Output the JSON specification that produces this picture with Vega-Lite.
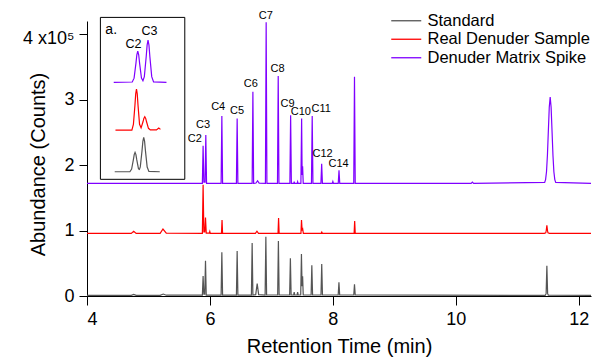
{
  "$schema": "https://vega.github.io/schema/vega-lite/v6.json",
  "width": 504,
  "height": 275,
  "autosize": {"type": "none"},
  "padding": {"left": 87, "top": 21, "right": 1, "bottom": 62},
  "background": "white",
  "config": {
    "view": {"stroke": null},
    "font": "Liberation Sans",
    "text": {"font": "Liberation Sans"}
  },
  "datasets": {
    "main": [
      {"s":"Standard","t":4.0,"v":0.01},{"s":"Standard","t":4.72,"v":0.01},{"s":"Standard","t":4.76,"v":0.025},{"s":"Standard","t":4.8,"v":0.01},
      {"s":"Standard","t":5.19,"v":0.01},{"s":"Standard","t":5.24,"v":0.03},{"s":"Standard","t":5.29,"v":0.012},
      {"s":"Standard","t":5.877,"v":0.012},{"s":"Standard","t":5.889,"v":0.305},{"s":"Standard","t":5.901,"v":0.03},{"s":"Standard","t":5.916,"v":0.03},{"s":"Standard","t":5.928,"v":0.54},{"s":"Standard","t":5.94,"v":0.012},
      {"s":"Standard","t":6.182,"v":0.012},{"s":"Standard","t":6.194,"v":0.667},{"s":"Standard","t":6.206,"v":0.012},
      {"s":"Standard","t":6.431,"v":0.012},{"s":"Standard","t":6.443,"v":0.687},{"s":"Standard","t":6.455,"v":0.012},
      {"s":"Standard","t":6.675,"v":0.012},{"s":"Standard","t":6.687,"v":0.81},{"s":"Standard","t":6.699,"v":0.015},
      {"s":"Standard","t":6.745,"v":0.02},{"s":"Standard","t":6.769,"v":0.19},{"s":"Standard","t":6.793,"v":0.02},
      {"s":"Standard","t":6.898,"v":0.015},{"s":"Standard","t":6.91,"v":0.905},{"s":"Standard","t":6.922,"v":0.015},
      {"s":"Standard","t":7.102,"v":0.015},{"s":"Standard","t":7.114,"v":0.84},{"s":"Standard","t":7.126,"v":0.015},
      {"s":"Standard","t":7.297,"v":0.015},{"s":"Standard","t":7.309,"v":0.575},{"s":"Standard","t":7.321,"v":0.015},
      {"s":"Standard","t":7.362,"v":0.015},{"s":"Standard","t":7.371,"v":0.06},{"s":"Standard","t":7.38,"v":0.015},
      {"s":"Standard","t":7.418,"v":0.015},{"s":"Standard","t":7.427,"v":0.06},{"s":"Standard","t":7.436,"v":0.015},
      {"s":"Standard","t":7.477,"v":0.015},{"s":"Standard","t":7.489,"v":0.64},{"s":"Standard","t":7.499,"v":0.15},{"s":"Standard","t":7.508,"v":0.3},{"s":"Standard","t":7.518,"v":0.015},
      {"s":"Standard","t":7.646,"v":0.015},{"s":"Standard","t":7.658,"v":0.47},{"s":"Standard","t":7.67,"v":0.015},
      {"s":"Standard","t":7.807,"v":0.015},{"s":"Standard","t":7.819,"v":0.49},{"s":"Standard","t":7.831,"v":0.015},
      {"s":"Standard","t":8.087,"v":0.015},{"s":"Standard","t":8.099,"v":0.21},{"s":"Standard","t":8.111,"v":0.015},
      {"s":"Standard","t":8.34,"v":0.015},{"s":"Standard","t":8.352,"v":0.18},{"s":"Standard","t":8.364,"v":0.015},
      {"s":"Standard","t":9.6,"v":0.012},{"s":"Standard","t":11.44,"v":0.01},{"s":"Standard","t":11.458,"v":0.012},{"s":"Standard","t":11.47,"v":0.04},{"s":"Standard","t":11.482,"v":0.46},{"s":"Standard","t":11.494,"v":0.04},{"s":"Standard","t":11.506,"v":0.012},{"s":"Standard","t":12.2,"v":0.01},

      {"s":"Real Denuder Sample","t":4.0,"v":0.957},{"s":"Real Denuder Sample","t":4.72,"v":0.957},{"s":"Real Denuder Sample","t":4.76,"v":0.99},{"s":"Real Denuder Sample","t":4.8,"v":0.957},
      {"s":"Real Denuder Sample","t":5.19,"v":0.957},{"s":"Real Denuder Sample","t":5.236,"v":1.023},{"s":"Real Denuder Sample","t":5.29,"v":0.96},
      {"s":"Real Denuder Sample","t":5.877,"v":0.957},{"s":"Real Denuder Sample","t":5.889,"v":1.7},{"s":"Real Denuder Sample","t":5.901,"v":0.98},{"s":"Real Denuder Sample","t":5.916,"v":0.98},{"s":"Real Denuder Sample","t":5.928,"v":1.2},{"s":"Real Denuder Sample","t":5.94,"v":0.96},
      {"s":"Real Denuder Sample","t":5.99,"v":0.96},{"s":"Real Denuder Sample","t":5.998,"v":0.985},{"s":"Real Denuder Sample","t":6.006,"v":0.957},
      {"s":"Real Denuder Sample","t":6.188,"v":0.957},{"s":"Real Denuder Sample","t":6.197,"v":1.16},{"s":"Real Denuder Sample","t":6.206,"v":0.957},
      {"s":"Real Denuder Sample","t":6.74,"v":0.957},{"s":"Real Denuder Sample","t":6.765,"v":0.99},{"s":"Real Denuder Sample","t":6.79,"v":0.957},
      {"s":"Real Denuder Sample","t":7.108,"v":0.957},{"s":"Real Denuder Sample","t":7.117,"v":1.19},{"s":"Real Denuder Sample","t":7.126,"v":0.957},
      {"s":"Real Denuder Sample","t":7.481,"v":0.957},{"s":"Real Denuder Sample","t":7.49,"v":1.16},{"s":"Real Denuder Sample","t":7.5,"v":1.0},{"s":"Real Denuder Sample","t":7.51,"v":1.02},{"s":"Real Denuder Sample","t":7.52,"v":0.957},
      {"s":"Real Denuder Sample","t":7.81,"v":0.957},{"s":"Real Denuder Sample","t":7.82,"v":0.975},{"s":"Real Denuder Sample","t":7.83,"v":0.957},
      {"s":"Real Denuder Sample","t":8.346,"v":0.957},{"s":"Real Denuder Sample","t":8.355,"v":1.145},{"s":"Real Denuder Sample","t":8.364,"v":0.957},
      {"s":"Real Denuder Sample","t":11.44,"v":0.957},{"s":"Real Denuder Sample","t":11.464,"v":0.965},{"s":"Real Denuder Sample","t":11.472,"v":1.0},{"s":"Real Denuder Sample","t":11.482,"v":1.08},{"s":"Real Denuder Sample","t":11.492,"v":1.0},{"s":"Real Denuder Sample","t":11.5,"v":0.965},{"s":"Real Denuder Sample","t":11.524,"v":0.957},{"s":"Real Denuder Sample","t":12.2,"v":0.957},

      {"s":"Denuder Matrix Spike","t":4.0,"v":1.72},
      {"s":"Denuder Matrix Spike","t":5.877,"v":1.72},{"s":"Denuder Matrix Spike","t":5.889,"v":2.295},{"s":"Denuder Matrix Spike","t":5.901,"v":1.74},{"s":"Denuder Matrix Spike","t":5.921,"v":1.74},{"s":"Denuder Matrix Spike","t":5.933,"v":2.46},{"s":"Denuder Matrix Spike","t":5.945,"v":1.72},
      {"s":"Denuder Matrix Spike","t":6.182,"v":1.72},{"s":"Denuder Matrix Spike","t":6.194,"v":2.75},{"s":"Denuder Matrix Spike","t":6.206,"v":1.72},
      {"s":"Denuder Matrix Spike","t":6.431,"v":1.72},{"s":"Denuder Matrix Spike","t":6.443,"v":2.71},{"s":"Denuder Matrix Spike","t":6.455,"v":1.72},
      {"s":"Denuder Matrix Spike","t":6.687,"v":1.72},{"s":"Denuder Matrix Spike","t":6.699,"v":3.12},{"s":"Denuder Matrix Spike","t":6.711,"v":1.72},
      {"s":"Denuder Matrix Spike","t":6.75,"v":1.725},{"s":"Denuder Matrix Spike","t":6.775,"v":1.76},{"s":"Denuder Matrix Spike","t":6.8,"v":1.725},
      {"s":"Denuder Matrix Spike","t":6.903,"v":1.72},{"s":"Denuder Matrix Spike","t":6.915,"v":4.18},{"s":"Denuder Matrix Spike","t":6.927,"v":1.72},
      {"s":"Denuder Matrix Spike","t":7.099,"v":1.72},{"s":"Denuder Matrix Spike","t":7.111,"v":3.36},{"s":"Denuder Matrix Spike","t":7.123,"v":1.72},
      {"s":"Denuder Matrix Spike","t":7.301,"v":1.72},{"s":"Denuder Matrix Spike","t":7.313,"v":2.76},{"s":"Denuder Matrix Spike","t":7.325,"v":1.72},
      {"s":"Denuder Matrix Spike","t":7.365,"v":1.72},{"s":"Denuder Matrix Spike","t":7.371,"v":1.745},{"s":"Denuder Matrix Spike","t":7.377,"v":1.72},
      {"s":"Denuder Matrix Spike","t":7.42,"v":1.72},{"s":"Denuder Matrix Spike","t":7.427,"v":1.745},{"s":"Denuder Matrix Spike","t":7.434,"v":1.72},
      {"s":"Denuder Matrix Spike","t":7.48,"v":1.72},{"s":"Denuder Matrix Spike","t":7.492,"v":2.71},{"s":"Denuder Matrix Spike","t":7.5,"v":1.85},{"s":"Denuder Matrix Spike","t":7.508,"v":1.98},{"s":"Denuder Matrix Spike","t":7.518,"v":1.72},
      {"s":"Denuder Matrix Spike","t":7.652,"v":1.72},{"s":"Denuder Matrix Spike","t":7.664,"v":2.75},{"s":"Denuder Matrix Spike","t":7.676,"v":1.72},
      {"s":"Denuder Matrix Spike","t":7.806,"v":1.72},{"s":"Denuder Matrix Spike","t":7.818,"v":2.02},{"s":"Denuder Matrix Spike","t":7.83,"v":1.72},
      {"s":"Denuder Matrix Spike","t":7.99,"v":1.72},{"s":"Denuder Matrix Spike","t":8.0,"v":1.75},{"s":"Denuder Matrix Spike","t":8.01,"v":1.72},
      {"s":"Denuder Matrix Spike","t":8.088,"v":1.72},{"s":"Denuder Matrix Spike","t":8.1,"v":1.92},{"s":"Denuder Matrix Spike","t":8.112,"v":1.72},
      {"s":"Denuder Matrix Spike","t":8.34,"v":1.72},{"s":"Denuder Matrix Spike","t":8.352,"v":3.35},{"s":"Denuder Matrix Spike","t":8.364,"v":1.72},
      {"s":"Denuder Matrix Spike","t":10.25,"v":1.72},{"s":"Denuder Matrix Spike","t":10.27,"v":1.74},{"s":"Denuder Matrix Spike","t":10.29,"v":1.72},
      {"s":"Denuder Matrix Spike","t":11.446,"v":1.735},{"s":"Denuder Matrix Spike","t":11.461,"v":1.778},{"s":"Denuder Matrix Spike","t":11.476,"v":1.898},{"s":"Denuder Matrix Spike","t":11.491,"v":2.149},{"s":"Denuder Matrix Spike","t":11.506,"v":2.521},{"s":"Denuder Matrix Spike","t":11.521,"v":2.884},{"s":"Denuder Matrix Spike","t":11.536,"v":3.04},{"s":"Denuder Matrix Spike","t":11.551,"v":2.884},{"s":"Denuder Matrix Spike","t":11.566,"v":2.521},{"s":"Denuder Matrix Spike","t":11.581,"v":2.149},{"s":"Denuder Matrix Spike","t":11.596,"v":1.898},{"s":"Denuder Matrix Spike","t":11.611,"v":1.778},{"s":"Denuder Matrix Spike","t":11.626,"v":1.735},
      {"s":"Denuder Matrix Spike","t":12.2,"v":1.72}
    ],
    "labels": [
      {"label":"C2","t":5.754,"v":2.392},{"label":"C3","t":5.889,"v":2.606},{"label":"C4","t":6.134,"v":2.89},{"label":"C5","t":6.443,"v":2.824},
      {"label":"C6","t":6.666,"v":3.241},{"label":"C7","t":6.91,"v":4.279},{"label":"C8","t":7.101,"v":3.466},{"label":"C9","t":7.264,"v":2.936},
      {"label":"C10","t":7.48,"v":2.809},{"label":"C11","t":7.811,"v":2.86},{"label":"C12","t":7.834,"v":2.163},{"label":"C14","t":8.094,"v":2.015}
    ],
    "box": [{"t":4.218,"t2":5.591,"v":1.782,"v2":4.255}],
    "inset": [
      {"s":"Denuder Matrix Spike","t":4.435,"v":3.263},{"s":"Denuder Matrix Spike","t":4.736,"v":3.268},{"s":"Denuder Matrix Spike","t":4.766,"v":3.327},{"s":"Denuder Matrix Spike","t":4.796,"v":3.553},{"s":"Denuder Matrix Spike","t":4.811,"v":3.684},{"s":"Denuder Matrix Spike","t":4.826,"v":3.74},{"s":"Denuder Matrix Spike","t":4.841,"v":3.684},{"s":"Denuder Matrix Spike","t":4.856,"v":3.553},{"s":"Denuder Matrix Spike","t":4.886,"v":3.327},{"s":"Denuder Matrix Spike","t":4.91,"v":3.287},{"s":"Denuder Matrix Spike","t":4.933,"v":3.351},{"s":"Denuder Matrix Spike","t":4.963,"v":3.655},{"s":"Denuder Matrix Spike","t":4.978,"v":3.832},{"s":"Denuder Matrix Spike","t":4.993,"v":3.908},{"s":"Denuder Matrix Spike","t":5.008,"v":3.832},{"s":"Denuder Matrix Spike","t":5.023,"v":3.655},{"s":"Denuder Matrix Spike","t":5.053,"v":3.35},{"s":"Denuder Matrix Spike","t":5.083,"v":3.27},{"s":"Denuder Matrix Spike","t":5.293,"v":3.263},
      {"s":"Real Denuder Sample","t":4.463,"v":2.534},{"s":"Real Denuder Sample","t":4.73,"v":2.534},{"s":"Real Denuder Sample","t":4.755,"v":2.619},{"s":"Real Denuder Sample","t":4.78,"v":2.914},{"s":"Real Denuder Sample","t":4.7925,"v":3.086},{"s":"Real Denuder Sample","t":4.805,"v":3.16},{"s":"Real Denuder Sample","t":4.8175,"v":3.086},{"s":"Real Denuder Sample","t":4.83,"v":2.914},{"s":"Real Denuder Sample","t":4.855,"v":2.623},{"s":"Real Denuder Sample","t":4.88,"v":2.568},{"s":"Real Denuder Sample","t":4.91,"v":2.657},{"s":"Real Denuder Sample","t":4.925,"v":2.713},{"s":"Real Denuder Sample","t":4.94,"v":2.737},{"s":"Real Denuder Sample","t":4.955,"v":2.713},{"s":"Real Denuder Sample","t":4.97,"v":2.657},{"s":"Real Denuder Sample","t":5.0,"v":2.561},{"s":"Real Denuder Sample","t":5.03,"v":2.536},{"s":"Real Denuder Sample","t":5.13,"v":2.536},{"s":"Real Denuder Sample","t":5.168,"v":2.565},{"s":"Real Denuder Sample","t":5.195,"v":2.545},
      {"s":"Standard","t":4.451,"v":1.898},{"s":"Standard","t":4.698,"v":1.898},{"s":"Standard","t":4.726,"v":1.938},{"s":"Standard","t":4.754,"v":2.078},{"s":"Standard","t":4.768,"v":2.159},{"s":"Standard","t":4.782,"v":2.194},{"s":"Standard","t":4.796,"v":2.159},{"s":"Standard","t":4.81,"v":2.078},{"s":"Standard","t":4.838,"v":1.943},{"s":"Standard","t":4.853,"v":1.934},{"s":"Standard","t":4.867,"v":1.972},{"s":"Standard","t":4.895,"v":2.217},{"s":"Standard","t":4.909,"v":2.361},{"s":"Standard","t":4.923,"v":2.423},{"s":"Standard","t":4.937,"v":2.361},{"s":"Standard","t":4.951,"v":2.217},{"s":"Standard","t":4.979,"v":1.969},{"s":"Standard","t":5.007,"v":1.903},{"s":"Standard","t":5.184,"v":1.898}
    ],
    "insetTag": [{"label":"a.","t":4.394,"v":4.061}],
    "insetText": [
      {"label":"C2","t":4.757,"v":3.847},
      {"label":"C3","t":5.016,"v":4.046}
    ]
  },
  "layer": [
    {
      "data": {"name": "main"},
      "mark": {"type": "line", "strokeWidth": 1.2, "interpolate": "linear"},
      "encoding": {
        "x": {
          "field": "t", "type": "quantitative", "title": "Retention Time (min)",
          "scale": {"domain": [4, 12.2], "nice": false, "zero": false},
          "axis": {
            "title": "Retention Time (min)", "values": [4, 6, 8, 10, 12], "format": "d", "grid": false,
            "domainColor": "#000", "tickColor": "#000", "tickSize": 9, "labelFontSize": 18,
            "labelColor": "#000", "labelPadding": 5, "titleFontSize": 20, "titleFontWeight": "normal",
            "titleColor": "#000", "titlePadding": 8, "labelFont": "Liberation Sans", "titleFont": "Liberation Sans"
          }
        },
        "y": {
          "field": "v", "type": "quantitative", "title": "Abundance (Counts)",
          "scale": {"domain": [0, 4.2], "nice": false, "zero": false},
          "axis": {
            "title": "Abundance (Counts)", "values": [0, 1, 2, 3, 4], "format": "d", "grid": false,
            "labelExpr": "datum.value == 4 ? '4 x10\u2075' : datum.label",
            "labelOffset": {"condition": {"test": "datum.value == 4", "value": 4}, "value": 0},
            "domainColor": "#000", "tickColor": "#000", "tickSize": 8, "labelFontSize": 18,
            "labelColor": "#000", "labelPadding": 5, "titleFontSize": 20, "titleFontWeight": "normal",
            "titleColor": "#000", "titleX": -49, "titleY": 143, "titleBaseline": "middle", "titleAngle": -90,
            "labelFont": "Liberation Sans", "titleFont": "Liberation Sans"
          }
        },
        "color": {
          "field": "s", "type": "nominal",
          "scale": {"domain": ["Standard", "Real Denuder Sample", "Denuder Matrix Spike"], "range": ["#555555", "#ff0000", "#7f00ff"]},
          "legend": {
            "title": null, "orient": "none", "legendX": 311, "legendY": -8.5,
            "symbolType": "M-3,0H3", "symbolSize": 100, "symbolStrokeWidth": 1.3,
            "labelFontSize": 16.5, "labelColor": "#000", "labelFont": "Liberation Sans", "labelLimit": 0,
            "rowPadding": 1.5, "labelOffset": 13, "padding": 0
          }
        }
      }
    },
    {
      "data": {"name": "labels"},
      "mark": {"type": "text", "fontSize": 11, "align": "center", "baseline": "middle", "color": "#000"},
      "encoding": {
        "x": {"field": "t", "type": "quantitative", "title": "Retention Time (min)", "scale": {"domain": [4, 12.2], "nice": false, "zero": false}},
        "y": {"field": "v", "type": "quantitative", "title": "Abundance (Counts)", "scale": {"domain": [0, 4.2], "nice": false, "zero": false}},
        "text": {"field": "label"}
      }
    },
    {
      "data": {"name": "box"},
      "mark": {"type": "rect", "fill": "white", "stroke": "#000", "strokeWidth": 1},
      "encoding": {
        "x": {"field": "t", "type": "quantitative", "title": "Retention Time (min)", "scale": {"domain": [4, 12.2], "nice": false, "zero": false}},
        "x2": {"field": "t2"},
        "y": {"field": "v", "type": "quantitative", "title": "Abundance (Counts)", "scale": {"domain": [0, 4.2], "nice": false, "zero": false}},
        "y2": {"field": "v2"}
      }
    },
    {
      "data": {"name": "inset"},
      "mark": {"type": "line", "strokeWidth": 1.2},
      "encoding": {
        "x": {"field": "t", "type": "quantitative", "title": "Retention Time (min)", "scale": {"domain": [4, 12.2], "nice": false, "zero": false}},
        "y": {"field": "v", "type": "quantitative", "title": "Abundance (Counts)", "scale": {"domain": [0, 4.2], "nice": false, "zero": false}},
        "color": {"field": "s", "type": "nominal", "legend": null}
      }
    },
    {
      "data": {"name": "insetTag"},
      "mark": {"type": "text", "fontSize": 14, "align": "center", "baseline": "middle", "color": "#000"},
      "encoding": {
        "x": {"field": "t", "type": "quantitative", "title": "Retention Time (min)", "scale": {"domain": [4, 12.2], "nice": false, "zero": false}},
        "y": {"field": "v", "type": "quantitative", "title": "Abundance (Counts)", "scale": {"domain": [0, 4.2], "nice": false, "zero": false}},
        "text": {"field": "label"}
      }
    },
    {
      "data": {"name": "insetText"},
      "mark": {"type": "text", "fontSize": 12.5, "align": "center", "baseline": "middle", "color": "#000"},
      "encoding": {
        "x": {"field": "t", "type": "quantitative", "title": "Retention Time (min)", "scale": {"domain": [4, 12.2], "nice": false, "zero": false}},
        "y": {"field": "v", "type": "quantitative", "title": "Abundance (Counts)", "scale": {"domain": [0, 4.2], "nice": false, "zero": false}},
        "text": {"field": "label"}
      }
    }
  ]
}
